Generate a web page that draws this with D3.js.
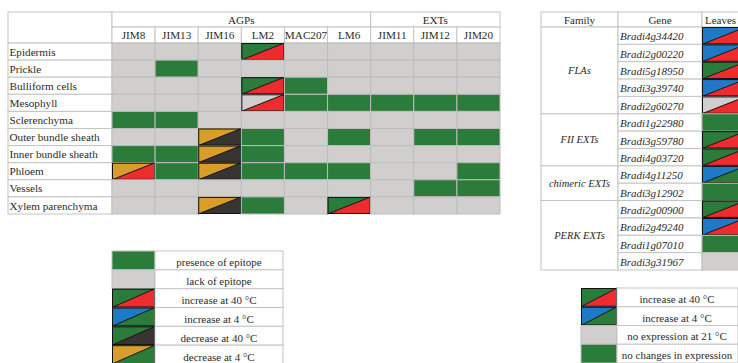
<!DOCTYPE html>
<html>
<head>
<meta charset="utf-8">
<script src="https://cdn.jsdelivr.net/npm/d3@7"></script>
<style>
  body { margin:0; background:#fff; }
  svg { display:block; font-family:"Liberation Serif","DejaVu Serif",serif; }
</style>
</head>
<body>
<div id="chart"></div>
<script>
// ---- data (left table: immunolocalisation of epitopes) ----
const tissues = ["Epidermis","Prickle","Bulliform cells","Mesophyll","Sclerenchyma",
  "Outer bundle sheath","Inner bundle sheath","Phloem","Vessels","Xylem parenchyma"];
const antibodies = ["JIM8","JIM13","JIM16","LM2","MAC207","LM6","JIM11","JIM12","JIM20"];
const antibodyGroup = ["AGPs","AGPs","AGPs","AGPs","AGPs","AGPs","EXTs","EXTs","EXTs"];
// code: "g" presence, "n" lack, "a-b" = upper-left colour / lower-right colour
const epitopeCodes = [
  ["n","n","n","g-r","n","n","n","n","n"],
  ["n","g","n","n","n","n","n","n","n"],
  ["n","n","n","g-r","g","n","n","n","n"],
  ["n","n","n","n-r","g","g","g","g","g"],
  ["g","g","n","n","n","n","n","n","n"],
  ["n","n","o-k","g","n","g","n","g","g"],
  ["g","g","o-k","g","n","n","n","n","n"],
  ["o-r","g","o-k","g","g","g","n","n","g"],
  ["n","n","n","n","n","n","n","g","g"],
  ["n","n","o-k","g","n","g-r","n","n","n"]
];
const epitopeLegendCodes = ["g","n","g-r","b-g","g-k","o-g"];
const epitopeLegendLabels = ["presence of epitope","lack of epitope","increase at 40 °C",
  "increase at 4 °C","decrease at 40 °C","decrease at 4 °C"];

// ---- data (right table: gene expression in leaves) ----
const families = ["FLAs","FII EXTs","chimeric EXTs","PERK EXTs"];
const genes = ["Bradi4g34420","Bradi2g00220","Bradi5g18950","Bradi3g39740","Bradi2g60270",
  "Bradi1g22980","Bradi3g59780","Bradi4g03720","Bradi4g11250","Bradi3g12902",
  "Bradi2g00900","Bradi2g49240","Bradi1g07010","Bradi3g31967"];
const geneFamily = ["FLAs","FLAs","FLAs","FLAs","FLAs","FII EXTs","FII EXTs","FII EXTs",
  "chimeric EXTs","chimeric EXTs","PERK EXTs","PERK EXTs","PERK EXTs","PERK EXTs"];
const leafCodes = ["b-r","b-r","g-r","b-r","n-r","g","g-r","g-r","b-g","g","g-r","b-r","g","n"];
const exprLegendCodes = ["g-r","b-g","n","g"];
const exprLegendLabels = ["increase at 40 °C","increase at 4 °C","no expression at 21 °C","no changes in expression"];

// ---- colours ----
const palette = { g:"#2b7b3b", n:"#d1cece", r:"#ee2b2e", b:"#1f79c6", k:"#383432", o:"#d79f2a" };
const txt = "#2b2b2b";
const lineCol = "#c4c4c4";

const W = 738, H = 363;
const svg = d3.select("#chart").append("svg").attr("width", W).attr("height", H);

// draws a cell: plain or split along bottom-left -> top-right diagonal
function drawCell(g, x, y, w, h, code){
  const parts = code.split("-");
  if (parts.length === 1) {
    g.append("rect").attr("x", x).attr("y", y).attr("width", w).attr("height", h)
      .attr("fill", palette[code]).attr("stroke", "#bdbdbd").attr("stroke-width", 1);
    return;
  }
  const ul = [[x,y],[x+w,y],[x,y+h]];
  const lr = [[x+w,y],[x+w,y+h],[x,y+h]];
  g.append("polygon").attr("points", ul.map(p=>p.join(",")).join(" ")).attr("fill", palette[parts[0]]);
  g.append("polygon").attr("points", lr.map(p=>p.join(",")).join(" ")).attr("fill", palette[parts[1]]);
  g.append("line").attr("x1", x).attr("y1", y+h).attr("x2", x+w).attr("y2", y)
    .attr("stroke", "#111").attr("stroke-width", 1);
  g.append("rect").attr("x", x+0.5).attr("y", y+0.5).attr("width", w-1).attr("height", h-1)
    .attr("fill", "none").attr("stroke", "#111").attr("stroke-width", 1);
}

function textCell(g, x, y, w, h){
  g.append("rect").attr("x", x).attr("y", y).attr("width", w).attr("height", h)
    .attr("fill", "#fff").attr("stroke", lineCol).attr("stroke-width", 1);
}

// ================= left table =================
const L = { x0: 8, x1: 112, x2: 500, yTop: 12, yMid: 27, yHead: 43, yBot: 214 };
const x = d3.scaleBand().domain(antibodies).range([L.x1, L.x2]).padding(0);
const y = d3.scaleBand().domain(tissues).range([L.yHead, L.yBot]).padding(0);

const left = svg.append("g");
textCell(left, L.x0, L.yTop, L.x1 - L.x0, L.yHead - L.yTop);

// group headers
const groupNames = Array.from(new Set(antibodyGroup));
groupNames.forEach(name => {
  const cols = antibodies.filter((a,i) => antibodyGroup[i] === name);
  const gx0 = x(cols[0]), gx1 = x(cols[cols.length-1]) + x.bandwidth();
  textCell(left, gx0, L.yTop, gx1 - gx0, L.yMid - L.yTop);
  left.append("text").attr("x", (gx0+gx1)/2).attr("y", L.yMid - 3.5)
    .attr("text-anchor","middle").attr("fill", txt).style("font-size","11.2px").text(name);
});
// antibody headers
antibodies.forEach(a => {
  textCell(left, x(a), L.yMid, x.bandwidth(), L.yHead - L.yMid);
  left.append("text").attr("x", x(a) + x.bandwidth()/2).attr("y", L.yHead - 4)
    .attr("text-anchor","middle").attr("fill", txt).style("font-size","11.2px").text(a);
});
// rows
tissues.forEach((t, i) => {
  textCell(left, L.x0, y(t), L.x1 - L.x0, y.bandwidth());
  left.append("text").attr("x", L.x0 + 1.5).attr("y", y(t) + y.bandwidth() - 4.5)
    .attr("fill", txt).style("font-size","11.2px").text(t);
  antibodies.forEach((a, j) => drawCell(left, x(a), y(t), x.bandwidth(), y.bandwidth(), epitopeCodes[i][j]));
});

// left legend
const ly = d3.scaleBand().domain(epitopeLegendLabels).range([251, 364]).padding(0);
const leftLeg = svg.append("g");
epitopeLegendLabels.forEach((lab, i) => {
  drawCell(leftLeg, 112, ly(lab), 43, ly.bandwidth(), epitopeLegendCodes[i]);
  textCell(leftLeg, 155, ly(lab), 128, ly.bandwidth());
  leftLeg.append("text").attr("x", 219).attr("y", ly(lab) + ly.bandwidth() - 3.5)
    .attr("text-anchor","middle").attr("fill", txt).style("font-size","11px").text(lab);
});

// ================= right table =================
const R = { xf: 541, xg: 618, xl: 702, xe: 746, yTop: 12, yHead: 27, yBot: 270 };
const gy = d3.scaleBand().domain(genes).range([R.yHead, R.yBot]).padding(0);
const right = svg.append("g");

[["Family", R.xf, R.xg], ["Gene", R.xg, R.xl], ["Leaves", R.xl, R.xe]].forEach(([lab, a, b]) => {
  textCell(right, a, R.yTop, b - a, R.yHead - R.yTop);
  const cut = b > W; // last column runs past the page edge
  right.append("text").attr("x", cut ? a + 3 : (a+b)/2).attr("y", R.yHead - 3.5)
    .attr("text-anchor", cut ? "start" : "middle").attr("fill", txt).style("font-size","11px").text(lab);
});

families.forEach(f => {
  const gs = genes.filter((g,i) => geneFamily[i] === f);
  const y0 = gy(gs[0]), y1 = gy(gs[gs.length-1]) + gy.bandwidth();
  textCell(right, R.xf, y0, R.xg - R.xf, y1 - y0);
  right.append("text").attr("x", (R.xf + R.xg)/2).attr("y", (y0+y1)/2 + 3.5)
    .attr("text-anchor","middle").attr("fill", txt).style("font-size","10.5px")
    .style("font-style","italic").text(f);
});

genes.forEach((gname, i) => {
  textCell(right, R.xg, gy(gname), R.xl - R.xg, gy.bandwidth());
  right.append("text").attr("x", R.xg + 2).attr("y", gy(gname) + gy.bandwidth() - 4)
    .attr("fill", txt).style("font-size","11px").style("font-style","italic").text(gname);
  drawCell(right, R.xl, gy(gname), R.xe - R.xl, gy.bandwidth(), leafCodes[i]);
});

// right legend
const ry = d3.scaleBand().domain(exprLegendLabels).range([288, 363]).padding(0);
const rightLeg = svg.append("g");
exprLegendLabels.forEach((lab, i) => {
  drawCell(rightLeg, 581, ry(lab), 36, ry.bandwidth(), exprLegendCodes[i]);
  textCell(rightLeg, 617, ry(lab), 121, ry.bandwidth());
  rightLeg.append("text").attr("x", 677).attr("y", ry(lab) + ry.bandwidth() - 4)
    .attr("text-anchor","middle").attr("fill", txt).style("font-size","11px").text(lab);
});
</script>
</body>
</html>
